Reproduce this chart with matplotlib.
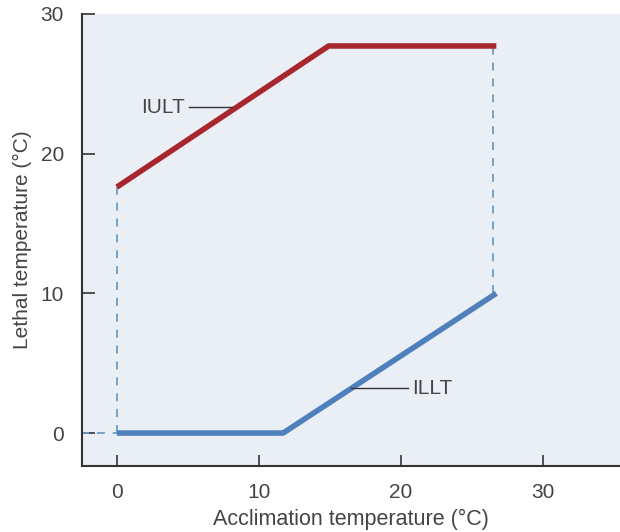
import matplotlib.pyplot as plt

# IULT / ILLT polylines (acclimation temp, lethal temp)
iult_x = [0, 14.9, 26.7]
iult_y = [17.6, 27.7, 27.7]
illt_x = [0, 11.7, 26.7]
illt_y = [0, 0, 10]

xticks = [0, 10, 20, 30]
yticks = [0, 10, 20, 30]

RED = "#a8262d"
BLUE = "#4f80bb"
DASH = "#6b9cc6"
TXT = "#444444"


def main():
    plt.rcParams['font.family'] = ['Liberation Sans', 'DejaVu Sans']
    fig = plt.figure(figsize=(6.2, 5.32), dpi=100)
    ax = fig.add_axes([0.132, 0.124, 0.868, 0.85])
    ax.set_facecolor("#eaeff6")

    # dashed guides
    dash = (0, (4.4, 4.4))
    ax.plot([0, 0], [illt_y[0], iult_y[0]], ls=dash, color=DASH, lw=1.3)
    ax.plot([-2.5, 0], [0, 0], ls=dash, color=DASH, lw=1.3)
    ax.plot([26.5, 26.5], [illt_y[-1], iult_y[-1]], ls=dash,
            color=DASH, lw=1.3)

    ax.plot(iult_x, iult_y, color=RED, lw=4, solid_capstyle='butt')
    ax.plot(illt_x, illt_y, color=BLUE, lw=4, solid_capstyle='butt')

    # labels with leader lines
    ax.plot([5.1, 8.1], [23.3, 23.3], color="#333333", lw=1)
    ax.text(4.8, 23.3, "IULT", ha='right', va='center', fontsize=15, color=TXT)
    ax.plot([16.5, 20.5], [3.2, 3.2], color="#333333", lw=1)
    ax.text(20.8, 3.2, "ILLT", ha='left', va='center', fontsize=15, color=TXT)

    ax.set_xlim(-2.46, 35.4)
    ax.set_ylim(-2.36, 30)
    ax.set_xticks(xticks)
    ax.set_yticks(yticks)
    ax.tick_params(direction='in', length=8, width=1.2, color="#333333",
                   labelsize=15, labelcolor=TXT)
    ax.tick_params(axis='x', pad=12)
    ax.tick_params(axis='y', length=9, pad=13)
    for s in ['top', 'right']:
        ax.spines[s].set_visible(False)
    for s in ['left', 'bottom']:
        ax.spines[s].set_color("#333333")
        ax.spines[s].set_linewidth(1.5)

    ax.set_xlabel("Acclimation temperature (°C)", fontsize=15.5, color=TXT,
                  labelpad=5)
    ax.set_ylabel("Lethal temperature (°C)", fontsize=15, color=TXT,
                  labelpad=6)

    fig.savefig("out.png", dpi=100)


if __name__ == "__main__":
    main()
